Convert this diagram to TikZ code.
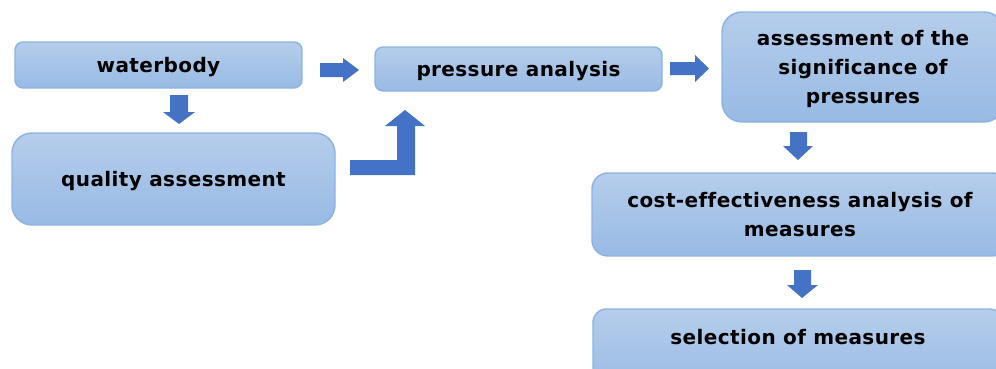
\documentclass[tikz,border=0pt]{standalone}
\usepackage{fontspec}
\newfontfamily\lblfont[LetterSpace=2,Ligatures={NoCommon}]{DejaVu Sans}
\definecolor{boxtop}{HTML}{B5CDEB}
\definecolor{boxbot}{HTML}{98BAE4}
\definecolor{boxline}{HTML}{8DB3E2}
\definecolor{arr}{HTML}{4472C4}
\tikzset{
  lbl/.style={inner sep=0pt, align=center, text depth=0pt, font=\lblfont\bfseries\fontsize{15}{22}\selectfont},
  box/.style={lbl, draw=boxline, line width=1.1pt, top color=boxtop, bottom color=boxbot},
  barrow/.style={fill=arr}
}
\begin{document}
\begin{tikzpicture}[x=0.75pt,y=-0.75pt]
\useasboundingbox (0,0) rectangle (996,368);
\clip (0,0) rectangle (996,368);
\node[box, rounded corners=6pt, minimum width=215.25pt, minimum height=34.5pt] (wb) at (158.5,65) {waterbody};
\node[box, rounded corners=15pt, minimum width=242.25pt, minimum height=69pt] (qa) at (173.5,179) {quality assessment};
\node[box, rounded corners=6pt, minimum width=215.25pt, minimum height=33pt] (pa) at (518.5,69) {pressure analysis};
\node[box, rounded corners=15pt, minimum width=211.5pt, minimum height=82.5pt] (as) at (863,67) {assessment of the\\significance of\\pressures};
\node[box, rounded corners=12pt, minimum width=312pt, minimum height=62.25pt] (ce) at (800,214.5) {cost-effectiveness analysis of\\measures};
\node[box, rounded corners=10pt, minimum width=307.5pt, minimum height=64.5pt] (sm) at (798,352) {};
\node[lbl] (smt) at (798,337) {selection of measures};
% block arrows
\fill[barrow] (320,63) -- (343,63) -- (343,58) -- (359,70) -- (343,82) -- (343,77) -- (320,77) -- cycle;
\fill[barrow] (670,62) -- (695,62) -- (695,55) -- (709,68.5) -- (695,82) -- (695,75) -- (670,75) -- cycle;
\fill[barrow] (170,95) -- (188,95) -- (188,112) -- (195,112) -- (179,124) -- (163,112) -- (170,112) -- cycle;
\fill[barrow] (790,132) -- (807,132) -- (807,146) -- (813,146) -- (798,160) -- (783,146) -- (790,146) -- cycle;
\fill[barrow] (794,270) -- (811,270) -- (811,285) -- (818,285) -- (802,298) -- (787,285) -- (794,285) -- cycle;
\fill[barrow] (350,160) -- (397,160) -- (397,126) -- (385,126) -- (405,110) -- (425,126) -- (415,126) -- (415,175) -- (350,175) -- cycle;
\end{tikzpicture}
\end{document}
